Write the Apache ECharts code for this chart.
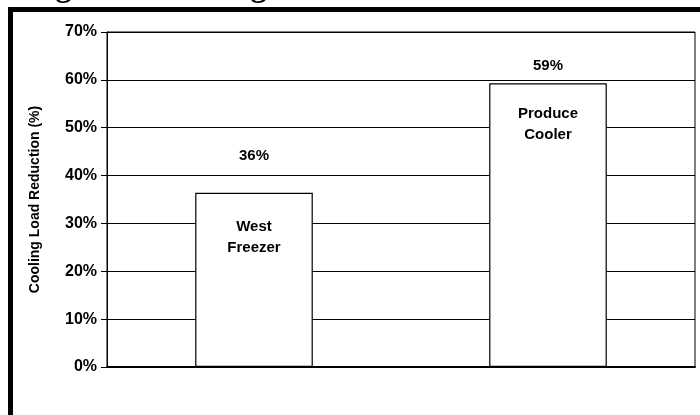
<!DOCTYPE html>
<html>
<head>
<meta charset="utf-8">
<script src="https://cdn.jsdelivr.net/npm/echarts@6/dist/echarts.min.js"></script>
<style>
html,body{margin:0;padding:0;background:#fff;}
#chart{width:700px;height:415px;}
</style>
</head>
<body>
<div id="chart"></div>
<script>
const titleText = 'Figure 4: Cooling Load Reduction Due to Retrofit';
const categories = ['West Freezer', 'Produce Cooler'];
const reductionPct = [36.4, 59.3];
const yTicks = [0, 10, 20, 30, 40, 50, 60, 70];
const pctLabelGap = [29, 10];
const nameLabelGap = [24, 20];

const chart = echarts.init(document.getElementById('chart'));
const sans = '"Liberation Sans", Arial, sans-serif';

chart.setOption({
  animation: false,
  backgroundColor: '#fff',
  title: {
    text: titleText,
    left: 22,
    top: -33,
    textStyle: { fontFamily: '"Liberation Serif", "Times New Roman", serif', fontWeight: 'bold', fontSize: 32, color: '#000' }
  },
  graphic: [{
    type: 'rect',
    shape: { x: 10.5, y: 9.5, width: 1000, height: 1000 },
    style: { fill: 'none', stroke: '#000', lineWidth: 5 },
    silent: true
  }],
  grid: { left: 107, right: 5, top: 32, bottom: 48, show: true, borderColor: '#000', borderWidth: 1, backgroundColor: 'transparent' },
  xAxis: {
    type: 'category',
    data: categories,
    axisLine: { lineStyle: { color: '#000', width: 2 } },
    axisTick: { show: false },
    axisLabel: { show: false },
    splitLine: { show: false }
  },
  yAxis: {
    type: 'value',
    min: yTicks[0],
    max: yTicks[yTicks.length - 1],
    interval: yTicks[1] - yTicks[0],
    name: 'Cooling Load Reduction (%)',
    nameLocation: 'middle',
    nameGap: 65,
    nameTextStyle: { fontFamily: sans, fontWeight: 'bold', fontSize: 14, color: '#000' },
    axisLine: { show: true, lineStyle: { color: '#000', width: 1 } },
    axisTick: { show: true, length: 6, lineStyle: { color: '#000' } },
    axisLabel: { margin: 10, formatter: '{value}%', fontFamily: sans, fontWeight: 'bold', fontSize: 16, color: '#000' },
    splitLine: { show: true, lineStyle: { color: '#000', width: 1 } }
  },
  series: [{
    type: 'bar',
    barWidth: '40%',
    data: reductionPct.map((v, i) => ({ value: v, label: { distance: nameLabelGap[i] } })),
    itemStyle: { color: '#fff', borderColor: '#000', borderWidth: 1.2 },
    label: {
      show: true,
      position: 'insideTop',
      formatter: p => p.name.replace(' ', '\n'),
      fontFamily: sans, fontWeight: 'bold', fontSize: 15, lineHeight: 21, color: '#000'
    },
    z: 3
  }, {
    type: 'bar',
    barWidth: '40%',
    barGap: '-100%',
    data: reductionPct.map((v, i) => ({ value: v, label: { distance: pctLabelGap[i] } })),
    itemStyle: { color: 'transparent', borderWidth: 0 },
    label: {
      show: true,
      position: 'top',
      formatter: p => Math.round(p.value) + '%',
      fontFamily: sans, fontWeight: 'bold', fontSize: 15, color: '#000'
    },
    z: 4
  }]
});
</script>
</body>
</html>
